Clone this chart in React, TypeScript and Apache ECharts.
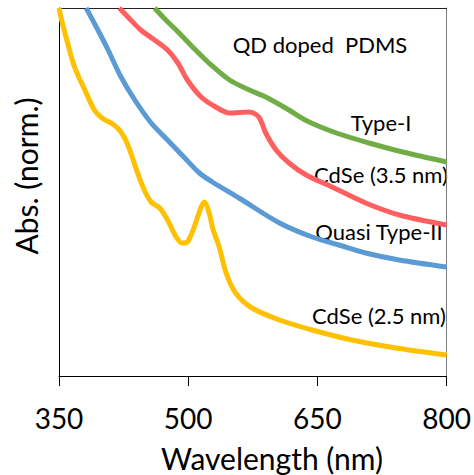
import React, { useEffect, useRef } from "react";
import * as echarts from "echarts";

// Wavelength (nm) and normalized absorbance (arbitrary units) for each sample
const yellowNm = [350, 353, 360, 368, 380, 391, 400, 414, 422, 429, 435, 440, 449, 457, 467, 476, 486, 493, 499, 507, 515, 519, 524, 529, 536, 544, 555, 574, 606, 644, 690, 745, 800];
const yellowAbs = [368, 356, 333, 309, 286, 266, 258, 251, 244, 233, 219, 206, 186, 174, 168, 156, 139, 133, 134, 149, 169, 174, 164, 146, 129, 103, 83, 68, 56, 46, 36, 27.5, 21];

const blueNm = [381.5, 397, 407, 422, 438, 457, 476, 496, 513, 528, 559, 606, 644, 675, 706, 745, 800];
const blueAbs = [368, 343, 326, 299, 276, 253, 236, 218, 203, 194, 178, 153, 139, 131, 123, 116, 109];

const redNm = [420, 430, 445, 461, 476, 488, 499, 515, 532, 548, 571, 582, 590, 602, 617, 637, 667, 706, 745, 800];
const redAbs = [368, 359, 346, 336, 326, 313, 296, 279, 269, 263, 264, 259, 243, 226, 213, 201, 189, 173, 161, 151];

const greenNm = [461, 474, 486, 505, 524, 548, 571, 590, 617, 638, 672, 710, 749, 800];
const greenAbs = [368, 356, 346, 329, 313, 296, 286, 279, 266, 255, 243, 233, 224, 214];

const xTicks = [350, 500, 650, 800];

const seriesNames = ["CdSe (2.5 nm)", "Quasi Type-II", "CdSe (3.5 nm)", "Type-I"];
const seriesColors = ["#FFC000", "#5B9BD5", "#FF5F5F", "#70AD47"];

const FONT = "Lato";

function pairs(xs: number[], ys: number[]) {
  return xs.map((x, i) => [x, ys[i]]);
}

export default function App() {
  const ref = useRef<HTMLDivElement>(null);
  useEffect(() => {
    if (!ref.current) return;
    const chart = echarts.init(ref.current, null, { renderer: "svg" });
    const data = [
      pairs(yellowNm, yellowAbs),
      pairs(blueNm, blueAbs),
      pairs(redNm, redAbs),
      pairs(greenNm, greenAbs),
    ];
    chart.setOption({
      animation: false,
      backgroundColor: "#ffffff",
      grid: { left: 59, right: 27, top: 8, bottom: 99, containLabel: false },
      xAxis: [
        {
          type: "value",
          min: xTicks[0],
          max: xTicks[xTicks.length - 1],
          interval: 150,
          axisLine: { show: true, lineStyle: { color: "#000", width: 1 } },
          axisTick: { show: true, length: 10, inside: false, lineStyle: { color: "#000" } },
          axisLabel: { fontFamily: FONT, fontSize: 28, color: "#000", margin: 28 },
          splitLine: { show: false },
        },
        {
          type: "value",
          position: "top",
          min: xTicks[0],
          max: xTicks[xTicks.length - 1],
          axisLine: { show: true, onZero: false, lineStyle: { color: "#222", width: 1 } },
          axisTick: { show: false },
          axisLabel: { show: false },
          splitLine: { show: false },
        },
      ],
      yAxis: [
        {
          type: "value",
          min: 0,
          max: 368,
          axisLine: { show: true, onZero: false, lineStyle: { color: "#000", width: 1 } },
          axisTick: { show: false },
          axisLabel: { show: false },
          splitLine: { show: false },
        },
        {
          type: "value",
          position: "right",
          min: 0,
          max: 368,
          axisLine: { show: true, onZero: false, lineStyle: { color: "#7f7f7f", width: 1 } },
          axisTick: { show: false },
          axisLabel: { show: false },
          splitLine: { show: false },
        },
      ],
      series: data.map((d, i) => ({
        type: "line",
        name: seriesNames[i],
        data: d,
        xAxisIndex: 0,
        yAxisIndex: 0,
        showSymbol: false,
        smooth: 0.3,
        clip: true,
        lineStyle: { color: seriesColors[i], width: 5 },
        itemStyle: { color: seriesColors[i] },
      })),
      graphic: [
        { type: "text", x: 320, y: 44, style: { text: "QD doped  PDMS", font: `22px ${FONT}`, fill: "#000", textAlign: "center", textVerticalAlign: "middle" } },
        { type: "text", x: 381, y: 122, style: { text: "Type-I", font: `22px ${FONT}`, fill: "#000", textAlign: "center", textVerticalAlign: "middle" } },
        { type: "text", x: 381, y: 174, style: { text: "CdSe (3.5 nm)", font: `22px ${FONT}`, fill: "#000", textAlign: "center", textVerticalAlign: "middle" } },
        { type: "text", x: 379, y: 231, style: { text: "Quasi Type-II", font: `22px ${FONT}`, fill: "#000", textAlign: "center", textVerticalAlign: "middle" } },
        { type: "text", x: 379, y: 315, style: { text: "CdSe (2.5 nm)", font: `22px ${FONT}`, fill: "#000", textAlign: "center", textVerticalAlign: "middle" } },
        { type: "text", x: 272, y: 458, style: { text: "Wavelength (nm)", font: `30px ${FONT}`, fill: "#000", textAlign: "center", textVerticalAlign: "middle" } },
        { type: "text", x: 26, y: 176, rotation: Math.PI / 2, style: { text: "Abs. (norm.)", font: `30px ${FONT}`, fill: "#000", textAlign: "center", textVerticalAlign: "middle" } },
      ],
    });
    return () => chart.dispose();
  }, []);
  return <div ref={ref} style={{ width: 474, height: 475, position: "absolute", left: 0, top: 0 }} />;
}
